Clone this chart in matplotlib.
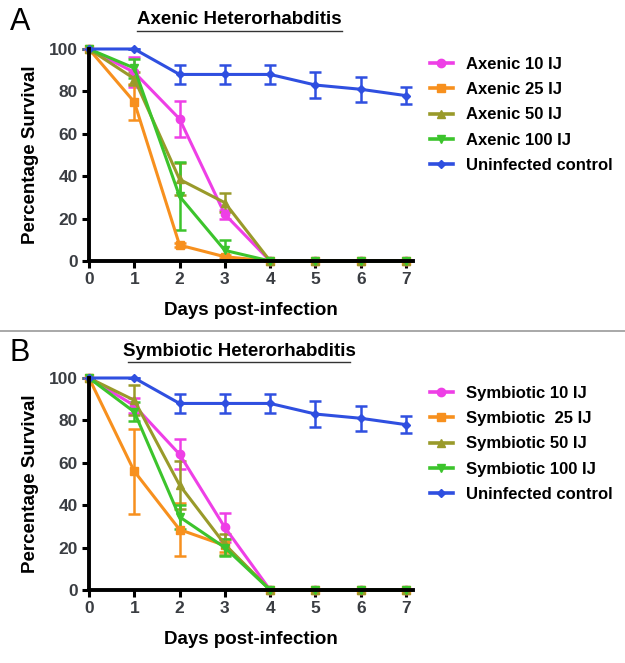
import matplotlib
matplotlib.use("Agg")
import matplotlib.pyplot as plt
from matplotlib.lines import Line2D

plt.rcParams['font.family'] = ['Liberation Sans', 'DejaVu Sans']

days = [0, 1, 2, 3, 4, 5, 6, 7]

# Panel A - Axenic
ax_labels = ["Axenic 10 IJ", "Axenic 25 IJ", "Axenic 50 IJ", "Axenic 100 IJ", "Uninfected control"]
ax_vals = [
    [100, 89, 67, 22, 0, 0, 0, 0],
    [100, 75, 7.5, 2, 0, 0, 0, 0],
    [100, 86, 38.5, 27.5, 0, 0, 0, 0],
    [100, 91, 30.5, 5, 0, 0, 0, 0],
    [100, 100, 88, 88, 88, 83, 81, 78],
]
ax_errs = [
    [0, 7, 8.5, 2, 0, 0, 0, 0],
    [0, 8.5, 0.8, 0.8, 0, 0, 0, 0],
    [0, 3, 7.5, 4.5, 0, 0, 0, 0],
    [0, 4.5, 16, 5, 0, 0, 0, 0],
    [0, 0, 4.5, 4.5, 4.5, 6, 6, 4],
]

# Panel B - Symbiotic
sy_labels = ["Symbiotic 10 IJ", "Symbiotic  25 IJ", "Symbiotic 50 IJ", "Symbiotic 100 IJ", "Uninfected control"]
sy_vals = [
    [100, 87, 64, 29.5, 0, 0, 0, 0],
    [100, 56, 28.5, 21, 0, 0, 0, 0],
    [100, 89.5, 49.5, 21.5, 0, 0, 0, 0],
    [100, 84, 34.5, 20, 0, 0, 0, 0],
    [100, 100, 88, 88, 88, 83, 81, 78],
]
sy_errs = [
    [0, 3.5, 7, 7, 0, 0, 0, 0],
    [0, 20, 12.5, 3, 0, 0, 0, 0],
    [0, 7, 11.5, 5, 0, 0, 0, 0],
    [0, 4.5, 5.5, 4, 0, 0, 0, 0],
    [0, 0, 4.5, 4.5, 4.5, 6, 6, 4],
]

colors = ["#ee3fe6", "#f7901e", "#999a2a", "#3cc42c", "#2f4fe0"]
markers = ["o", "s", "^", "v", "D"]
msizes = [6, 6, 6, 6, 4.5]

yticks = [0, 20, 40, 60, 80, 100]

fig = plt.figure(figsize=(6.25, 6.63), dpi=100)

def panel(rect, labels, vals, errs, title, letter, title_y, ul_x0, ul_x1, letter_y):
    ax = fig.add_axes(rect)
    handles = []
    for lab, v, e, c, m, ms in zip(labels, vals, errs, colors, markers, msizes):
        ax.errorbar(days, v, yerr=e, color=c, marker=m, markersize=ms, lw=2.2,
                    elinewidth=1.8, capsize=4.5, capthick=1.8, clip_on=False)
        handles.append(Line2D([], [], color=c, marker=m, markersize=ms, lw=2.6, label=lab))
    ax.set_xlim(0, 7.15)
    ax.set_ylim(0, 100)
    ax.set_xticks(days)
    ax.set_yticks(yticks)
    for s in ["top", "right"]:
        ax.spines[s].set_visible(False)
    for s in ["left", "bottom"]:
        ax.spines[s].set_linewidth(2.8)
    ax.tick_params(axis='both', direction='out', length=5, width=2.2, labelsize=12.5,
                   labelcolor="#3a3d42", pad=3)
    for t in ax.get_xticklabels() + ax.get_yticklabels():
        t.set_fontweight('bold')
    ax.set_xlabel("Days post-infection", fontsize=13.5, fontweight='bold', labelpad=11)
    ax.set_ylabel("Percentage Survival", fontsize=13.5, fontweight='bold', labelpad=7)
    ax.legend(handles=handles, loc='upper left', bbox_to_anchor=(1.032, 0.995),
              frameon=False, prop={'weight': 'bold', 'size': 12},
              handlelength=1.4, handletextpad=0.75, labelspacing=0.62,
              borderaxespad=0)
    fig.text((ul_x0 + ul_x1) / 2 / 625, 1 - title_y / 663, title, ha='center', va='center',
             fontsize=13.5, fontweight='bold')
    fig.add_artist(Line2D([ul_x0 / 625, ul_x1 / 625], [1 - (title_y + 11) / 663] * 2,
                          color='#333333', lw=1.0))
    fig.text(10 / 625, 1 - letter_y / 663, letter, ha='left', va='center', fontsize=22)
    return ax

panel([89 / 625, 1 - 261 / 663, 317 / 7 * 7.15 / 625, 212 / 663], ax_labels, ax_vals, ax_errs,
      "Axenic Heterorhabditis", "A", 20, 137, 342, 22)
panel([89 / 625, 1 - 590 / 663, 317 / 7 * 7.15 / 625, 212 / 663], sy_labels, sy_vals, sy_errs,
      "Symbiotic Heterorhabditis", "B", 351, 128, 350, 353)

fig.add_artist(Line2D([0, 1], [1 - 331 / 663] * 2, color='#999999', lw=1.2))

fig.savefig("out.png", dpi=100)
